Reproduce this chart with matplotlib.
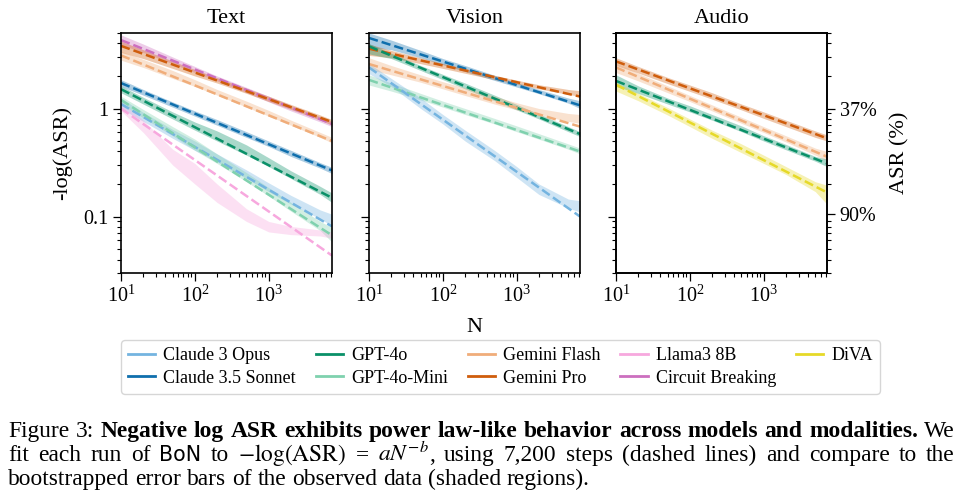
import numpy as np
import matplotlib.pyplot as plt
from matplotlib.lines import Line2D
from matplotlib.ticker import FixedLocator, FixedFormatter, FuncFormatter, NullFormatter, LogLocator

plt.rcParams["font.family"] = ["Liberation Serif", "DejaVu Serif"]
plt.rcParams["mathtext.fontset"] = "stix"

N_GRID = [10, 20, 50, 100, 200, 500, 1000, 2000, 5000, 7200]
N_FIT = [10, 7200]

MODELS = ["Claude 3 Opus", "Claude 3.5 Sonnet", "GPT-4o", "GPT-4o-Mini", "Gemini Flash",
          "Gemini Pro", "Llama3 8B", "Circuit Breaking", "DiVA"]
COLORS = ["#74b4e0", "#0f6fad", "#0a9068", "#7fd1ae", "#f0ad7a",
          "#cf5d0c", "#f7a8de", "#cc6fbf", "#e6d928"]

# -log(ASR) fit values at N=10 and N=7200
TEXT_FIT = {
    "Circuit Breaking": [4.3, 0.72],
    "Gemini Pro": [3.8, 0.75],
    "Gemini Flash": [3.1, 0.50],
    "Claude 3.5 Sonnet": [1.72, 0.267],
    "GPT-4o": [1.51, 0.149],
    "Claude 3 Opus": [1.1, 0.081],
    "GPT-4o-Mini": [1.2, 0.067],
    "Llama3 8B": [1.0, 0.0435],
}
TEXT_LO = {
    "Circuit Breaking": [3.9, 3.3, 2.6, 2.15, 1.8, 1.4, 1.15, 0.95, 0.75, 0.68],
    "Gemini Pro": [3.3, 2.9, 2.35, 2.0, 1.72, 1.38, 1.16, 0.98, 0.78, 0.70],
    "Gemini Flash": [2.8, 2.4, 1.9, 1.6, 1.33, 1.03, 0.85, 0.70, 0.54, 0.48],
    "Claude 3.5 Sonnet": [1.6, 1.33, 1.03, 0.85, 0.70, 0.54, 0.445, 0.36, 0.28, 0.25],
    "GPT-4o": [1.4, 1.1, 0.80, 0.63, 0.50, 0.37, 0.29, 0.225, 0.16, 0.135],
    "Claude 3 Opus": [1.0, 0.76, 0.53, 0.41, 0.32, 0.225, 0.17, 0.13, 0.095, 0.082],
    "GPT-4o-Mini": [1.1, 0.82, 0.56, 0.41, 0.31, 0.21, 0.155, 0.112, 0.074, 0.058],
    "Llama3 8B": [0.95, 0.60, 0.30, 0.20, 0.135, 0.09, 0.072, 0.068, 0.066, 0.063],
}
TEXT_HI = {
    "Circuit Breaking": [4.8, 3.95, 3.0, 2.45, 2.0, 1.57, 1.3, 1.07, 0.84, 0.76],
    "Gemini Pro": [4.2, 3.5, 2.75, 2.3, 1.93, 1.54, 1.3, 1.09, 0.87, 0.79],
    "Gemini Flash": [3.4, 2.85, 2.25, 1.85, 1.5, 1.17, 0.96, 0.78, 0.6, 0.54],
    "Claude 3.5 Sonnet": [1.85, 1.5, 1.15, 0.95, 0.79, 0.61, 0.5, 0.41, 0.315, 0.285],
    "GPT-4o": [1.62, 1.27, 0.93, 0.75, 0.62, 0.46, 0.35, 0.265, 0.19, 0.165],
    "Claude 3 Opus": [1.25, 0.92, 0.64, 0.50, 0.38, 0.27, 0.205, 0.157, 0.115, 0.105],
    "GPT-4o-Mini": [1.3, 0.98, 0.68, 0.52, 0.38, 0.255, 0.185, 0.135, 0.09, 0.079],
    "Llama3 8B": [1.15, 0.78, 0.42, 0.31, 0.2, 0.118, 0.09, 0.081, 0.075, 0.072],
}

VISION_FIT = {
    "Claude 3.5 Sonnet": [4.5, 1.07],
    "Gemini Pro": [3.58, 1.29],
    "GPT-4o": [3.76, 0.58],
    "Gemini Flash": [2.58, 0.68],
    "GPT-4o-Mini": [1.84, 0.40],
    "Claude 3 Opus": [2.4, 0.10],
}
VISION_LO = {
    "Claude 3.5 Sonnet": [3.7, 3.5, 2.95, 2.55, 2.2, 1.82, 1.58, 1.37, 1.12, 1.0],
    "Gemini Pro": [3.1, 2.95, 2.6, 2.35, 2.12, 1.85, 1.68, 1.52, 1.35, 1.3],
    "GPT-4o": [3.2, 2.9, 2.25, 1.85, 1.52, 1.18, 0.97, 0.8, 0.61, 0.55],
    "Gemini Flash": [2.3, 2.05, 1.75, 1.52, 1.32, 1.1, 0.97, 0.87, 0.76, 0.73],
    "GPT-4o-Mini": [1.65, 1.45, 1.2, 1.03, 0.88, 0.72, 0.61, 0.52, 0.42, 0.38],
    "Claude 3 Opus": [2.1, 1.6, 1.0, 0.72, 0.5, 0.33, 0.23, 0.16, 0.12, 0.11],
}
VISION_HI = {
    "Claude 3.5 Sonnet": [5.0, 4.3, 3.45, 2.9, 2.5, 2.03, 1.74, 1.5, 1.25, 1.18],
    "Gemini Pro": [3.95, 3.45, 2.95, 2.62, 2.35, 2.03, 1.83, 1.66, 1.5, 1.46],
    "GPT-4o": [4.0, 3.25, 2.5, 2.07, 1.72, 1.33, 1.09, 0.89, 0.68, 0.61],
    "Gemini Flash": [2.95, 2.5, 2.05, 1.77, 1.55, 1.3, 1.13, 1.0, 0.9, 0.88],
    "GPT-4o-Mini": [2.05, 1.72, 1.38, 1.17, 1.0, 0.81, 0.69, 0.585, 0.47, 0.43],
    "Claude 3 Opus": [2.6, 1.9, 1.25, 0.88, 0.63, 0.41, 0.29, 0.2, 0.145, 0.14],
}

AUDIO_FIT = {
    "Gemini Pro": [2.73, 0.53],
    "Gemini Flash": [2.4, 0.358],
    "GPT-4o": [1.8, 0.31],
    "DiVA": [1.66, 0.167],
}
AUDIO_LO = {
    "Gemini Pro": [2.5, 2.13, 1.7, 1.44, 1.22, 0.97, 0.81, 0.68, 0.54, 0.5],
    "Gemini Flash": [2.15, 1.8, 1.4, 1.16, 0.95, 0.73, 0.6, 0.49, 0.37, 0.33],
    "GPT-4o": [1.6, 1.38, 1.1, 0.93, 0.78, 0.61, 0.5, 0.415, 0.325, 0.29],
    "DiVA": [1.45, 1.18, 0.87, 0.68, 0.53, 0.39, 0.31, 0.245, 0.17, 0.13],
}
AUDIO_HI = {
    "Gemini Pro": [2.95, 2.45, 1.94, 1.65, 1.4, 1.1, 0.93, 0.78, 0.62, 0.57],
    "Gemini Flash": [2.65, 2.12, 1.62, 1.32, 1.08, 0.83, 0.68, 0.56, 0.43, 0.4],
    "GPT-4o": [2.05, 1.62, 1.25, 1.06, 0.88, 0.69, 0.56, 0.465, 0.36, 0.34],
    "DiVA": [1.75, 1.38, 1.02, 0.8, 0.63, 0.47, 0.37, 0.29, 0.21, 0.195],
}

ASR_TICKS = [37, 90]

color_of = dict(zip(MODELS, COLORS))

fig = plt.figure(figsize=(9.6, 4.98), dpi=100)
W, H = 960, 498
lefts = [121, 369, 616]
axes = [fig.add_axes([l / W, 1 - 273 / H, 211 / W, 240 / H]) for l in lefts]

panels = [("Text", TEXT_FIT, TEXT_LO, TEXT_HI),
          ("Vision", VISION_FIT, VISION_LO, VISION_HI),
          ("Audio", AUDIO_FIT, AUDIO_LO, AUDIO_HI)]

for i, (ax, (title, fit, lo, hi)) in enumerate(zip(axes, panels)):
    for name in fit:
        c = color_of[name]
        ax.fill_between(N_GRID, lo[name], hi[name], color=c, alpha=0.35, lw=0)
    for name in fit:
        ax.plot(N_FIT, fit[name], color=color_of[name], ls="--", lw=1.8)
    ax.set_xscale("log")
    ax.set_yscale("log")
    ax.set_xlim(10, 7200)
    ax.set_ylim(0.03, 5)
    ax.set_title(title, fontsize=16, pad=7)
    ax.yaxis.set_major_locator(FixedLocator([0.1, 1]))
    ax.yaxis.set_major_formatter(FuncFormatter(lambda v, p: f"{v:g}"))
    ax.yaxis.set_minor_locator(LogLocator(subs=np.arange(2, 10)))
    ax.yaxis.set_minor_formatter(NullFormatter())
    ax.xaxis.set_minor_formatter(NullFormatter())
    ax.tick_params(which="major", direction="out", length=5.5, width=0.9, labelsize=14.5)
    ax.tick_params(which="minor", direction="out", length=3, width=0.8)
    for s in ax.spines.values():
        s.set_linewidth(1.2)
    if i > 0:
        ax.tick_params(labelleft=False)

axes[0].set_ylabel("-log(ASR)", fontsize=16, labelpad=8)
axes[1].set_xlabel("N", fontsize=16, labelpad=8)

# right axis in ASR percent for the audio panel
tw = axes[2].twinx()
tw.set_yscale("log")
tw.set_ylim(axes[2].get_ylim())
tw.yaxis.set_major_locator(FixedLocator([-np.log(a / 100) for a in ASR_TICKS]))
tw.yaxis.set_major_formatter(FixedFormatter([f"{a}%" for a in ASR_TICKS]))
tw.yaxis.set_minor_locator(LogLocator(subs=np.arange(2, 10)))
tw.yaxis.set_minor_formatter(NullFormatter())
tw.tick_params(which="major", direction="out", length=5.5, width=0.9, labelsize=14.5)
tw.tick_params(which="minor", direction="out", length=3, width=0.8)
tw.set_ylabel("ASR (%)", fontsize=16, labelpad=10)
for s in tw.spines.values():
    s.set_linewidth(1.2)

handles = [Line2D([], [], color=c, lw=2) for c in COLORS]
fig.legend(handles, MODELS, ncol=5, loc="upper left", bbox_to_anchor=(121 / W, 1 - 340 / H),
           borderaxespad=0, fontsize=13, frameon=True, edgecolor="#cccccc", handlelength=1.5,
           handletextpad=0.45, columnspacing=1.1, borderpad=0.4, labelspacing=0.3)

# caption, justified to the page width
renderer = fig.canvas.get_renderer()
X0, X1 = 8, 955


def text_width(s, st, size):
    kw = dict(fontsize=size)
    if st == "b":
        kw["fontweight"] = "bold"
    if st == "s":
        kw.update(fontsize=size - 2, family="DejaVu Sans")
    t = fig.text(0, 0, s, **kw)
    w = t.get_window_extent(renderer).width
    t.remove()
    return w


def words(s, st, first_space=True):
    return [(w, st, first_space if j == 0 else True) for j, w in enumerate(s.split(" "))]


line1 = (words("Figure 3:", "n", False)
         + words("Negative log ASR exhibits power law-like behavior across models and modalities.", "b")
         + words("We", "n"))
line2 = (words("fit each run of", "n", False) + words("BoN", "s") + words("to", "n")
         + [(r"$-\log(\mathrm{ASR})$", "n", True), ("=", "n", True), (r"$aN^{-b}$", "n", True)]
         + words(", using 7,200 steps (dashed lines) and compare to the", "n", False))
line3 = words("bootstrapped error bars of the observed data (shaded regions).", "n", False)


def natural_width(tokens, size):
    sp = text_width("a a", "n", size) - text_width("aa", "n", size)
    gaps = sum(1 for _, _, s in tokens[1:] if s)
    return sum(text_width(w, st, size) for w, st, _ in tokens) + gaps * sp


# pick the caption size so the widest line just fills the width
cap_size = 14.0
cap_size *= (X1 - X0 - 6) / max(natural_width(line1, cap_size), natural_width(line2, cap_size))


def caption_line(tokens, y, justify=True):
    size = cap_size
    space_w = text_width("a a", "n", size) - text_width("aa", "n", size)
    widths = [text_width(w, st, size) for w, st, _ in tokens]
    gaps = sum(1 for _, _, sp in tokens[1:] if sp)
    extra = (X1 - X0) - sum(widths) - gaps * space_w
    g = space_w + (extra / gaps if justify and gaps else 0)
    x = X0
    for k, ((w, st, sp), wd) in enumerate(zip(tokens, widths)):
        if k and sp:
            x += g
        kw = dict(fontsize=size)
        if st == "b":
            kw["fontweight"] = "bold"
        if st == "s":
            kw.update(fontsize=size - 2, family="DejaVu Sans")
        fig.text(x / W, 1 - y / H, w, va="baseline", ha="left", **kw)
        x += wd


caption_line(line1, 437)
caption_line(line2, 461)
caption_line(line3, 485, justify=False)

fig.savefig("out.png", dpi=100)
